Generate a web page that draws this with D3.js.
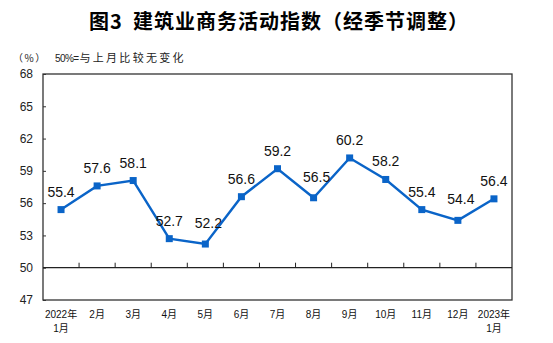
<!DOCTYPE html>
<html><head><meta charset="utf-8">
<script src="https://cdn.jsdelivr.net/npm/d3@7/dist/d3.min.js"></script>
<style>body{margin:0;background:#fff}svg{display:block}</style>
</head><body>
<svg id="c" width="553" height="343"></svg>
<script>
const categories = ["2022年\n1月","2月","3月","4月","5月","6月","7月","8月","9月","10月","11月","12月","2023年\n1月"];
const values = [55.4,57.6,58.1,52.7,52.2,56.6,59.2,56.5,60.2,58.2,55.4,54.4,56.4];
const yTicks = [47,50,53,56,59,62,65,68];
const titleA = "图3";
const titleB = "建筑业商务活动指数（经季节调整）";
const unitLabel = "（%）";
const noteA = "50%=";
const noteB = "与上月比较无变化";

const svg = d3.select("#c");
const m = {l:43, r:512, t:74, b:300};
const x = d3.scaleBand().domain(d3.range(categories.length)).range([m.l, m.r]);
const y = d3.scaleLinear().domain([47,68]).range([m.b, m.t]);
const cx = i => x(i) + x.bandwidth()/2;
const blue = "#0a64c8";
const cjk = "'Liberation Sans','Noto Sans CJK SC',sans-serif";

const tt = svg.append("text").attr("y",29).attr("font-family","'Noto Sans CJK SC',sans-serif")
  .attr("font-weight","bold").attr("font-size",20).attr("fill","#000").attr("letter-spacing",1);
tt.append("tspan").attr("x",89).text(titleA);
tt.append("tspan").attr("x",133).text(titleB);

svg.append("text").attr("x",13).attr("y",62).attr("font-family","'Noto Sans CJK SC',sans-serif")
  .attr("font-size",10).attr("letter-spacing",1.5).attr("fill","#222").text(unitLabel);
const nt = svg.append("text").attr("x",55).attr("y",62).attr("font-family",cjk).attr("fill","#222");
nt.append("tspan").attr("font-size",10).attr("letter-spacing",-0.6).text(noteA);
nt.append("tspan").attr("dx",1).attr("font-size",11).attr("letter-spacing",2.3).text(noteB);

// frame
svg.append("rect").attr("x",m.l).attr("y",m.t).attr("width",m.r-m.l).attr("height",m.b-m.t)
  .attr("fill","none").attr("stroke","#333").attr("stroke-width",1.3);

// y axis
const yAxis = d3.axisLeft(y).tickValues(yTicks).tickSize(-3).tickPadding(10).tickFormat(d3.format("d"));
const ya = svg.append("g").attr("transform",`translate(${m.l},0)`).call(yAxis);
ya.select(".domain").remove();
ya.selectAll("line").attr("stroke","#333");
ya.selectAll("text").attr("font-family","'Liberation Sans',Arial,sans-serif").attr("font-size",12).attr("fill","#222");

// 50 line with category ticks
const y50 = y(50);
svg.append("line").attr("x1",m.l).attr("x2",m.r).attr("y1",y50).attr("y2",y50).attr("stroke","#222").attr("stroke-width",1.2);
svg.append("g").selectAll("line").data(d3.range(1,categories.length)).join("line")
  .attr("x1",i=>x(i)).attr("x2",i=>x(i)).attr("y1",y50).attr("y2",y50-5).attr("stroke","#222");

// x labels
const xl = svg.append("g").selectAll("text").data(categories).join("text")
  .attr("x",(d,i)=>cx(i)).attr("y",318).attr("text-anchor","middle")
  .attr("font-family",cjk).attr("font-size",10).attr("fill","#111");
xl.each(function(d){
  const lines = d.split("\n");
  const t = d3.select(this);
  lines.forEach((s,k)=>t.append("tspan").attr("x",t.attr("x")).attr("dy",k?14:0).text(s));
});

// line
const line = d3.line().x((d,i)=>cx(i)).y(d=>y(d));
svg.append("path").datum(values).attr("d",line).attr("fill","none").attr("stroke",blue).attr("stroke-width",2.4);
svg.append("g").selectAll("rect").data(values).join("rect")
  .attr("x",(d,i)=>cx(i)-3.5).attr("y",d=>y(d)-3.5).attr("width",7).attr("height",7).attr("fill",blue);

// value labels
const isMin = i => i>0 && i<values.length-1 && values[i]<values[i-1] && values[i]<=values[i+1];
svg.append("g").selectAll("text").data(values).join("text")
  .attr("x",(d,i)=>cx(i)+(isMin(i)?3:0)).attr("y",(d,i)=>y(d)-(isMin(i)?16:13))
  .attr("text-anchor","middle").attr("font-family","'Liberation Sans',Arial,sans-serif")
  .attr("font-size",14).attr("fill","#111").text(d=>d.toFixed(1));
</script>
</body></html>
